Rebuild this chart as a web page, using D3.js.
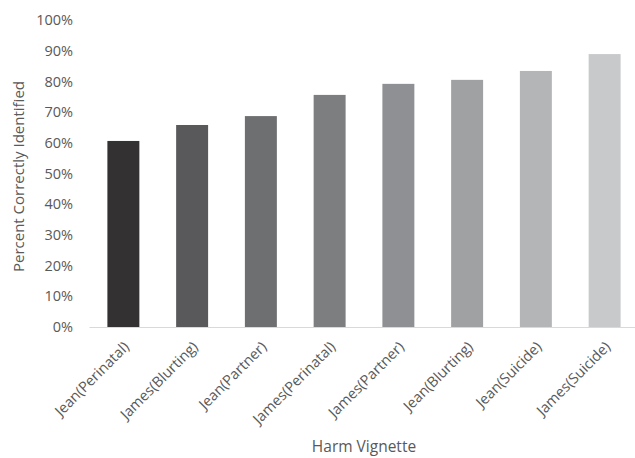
<!DOCTYPE html>
<html>
<head>
<meta charset="utf-8">
<script src="https://cdn.jsdelivr.net/npm/d3@7"></script>
<style>
  html, body { margin: 0; padding: 0; background: #fff; overflow: hidden; }
  text { font-family: "Open Sans", "Liberation Sans", sans-serif; fill: #595959; }
</style>
</head>
<body>
<svg id="chart" width="635" height="458"></svg>
<script>
// Share of respondents who correctly identified each harm vignette
const categories = [
  "Jean(Perinatal)", "James(Blurting)", "Jean(Partner)", "James(Perinatal)",
  "James(Partner)", "Jean(Blurting)", "Jean(Suicide)", "James(Suicide)"
];
const percentCorrect = [0.606, 0.658, 0.687, 0.756, 0.792, 0.805, 0.834, 0.889];
const barColors = ["#333132", "#59595b", "#6e6f71", "#7d7e80", "#8f9093", "#a0a1a3", "#b4b5b7", "#c8c9cb"];
const yTicks = [0, 0.1, 0.2, 0.3, 0.4, 0.5, 0.6, 0.7, 0.8, 0.9, 1.0];

const svg = d3.select("#chart");
const plot = { left: 89, right: 639, top: 20, bottom: 327 };

const x = d3.scaleBand()
  .domain(categories)
  .range([plot.left, plot.right])
  .paddingInner(0.535)
  .paddingOuter(0.2675);

const y = d3.scaleLinear()
  .domain([0, 1])
  .range([plot.bottom, plot.top]);

// bars
svg.append("g")
  .selectAll("rect")
  .data(categories)
  .join("rect")
  .attr("x", d => x(d))
  .attr("width", x.bandwidth())
  .attr("y", (d, i) => y(percentCorrect[i]))
  .attr("height", (d, i) => y(0) - y(percentCorrect[i]))
  .attr("fill", (d, i) => barColors[i]);

// y axis: labels only
const yAxis = svg.append("g")
  .attr("transform", `translate(${plot.left},0)`)
  .call(d3.axisLeft(y).tickValues(yTicks).tickFormat(d3.format(".0%")).tickSize(0).tickPadding(16));
yAxis.select(".domain").remove();
yAxis.selectAll("text").style("font-size", "14.5px").attr("fill", "#505050");

// x axis: baseline with rotated category labels
const xAxis = svg.append("g")
  .attr("transform", `translate(0,${plot.bottom})`)
  .call(d3.axisBottom(x).tickSize(0));
xAxis.select(".domain").attr("stroke", "#d9d9d9").attr("stroke-width", 1);
xAxis.selectAll("text")
  .style("font-size", "14.5px")
  .attr("fill", "#505050")
  .attr("text-anchor", "end")
  .attr("dy", "0.35em")
  .attr("transform", "translate(1,15) rotate(-45)");

// axis titles
svg.append("text")
  .attr("x", (plot.left + 639) / 2)
  .attr("y", 452)
  .attr("text-anchor", "middle")
  .attr("fill", "#505050")
  .style("font-size", "15.5px")
  .text("Harm Vignette");

svg.append("text")
  .attr("transform", `translate(24,${(plot.top + plot.bottom) / 2 + 3}) rotate(-90)`)
  .attr("text-anchor", "middle")
  .attr("fill", "#505050")
  .style("font-size", "15px")
  .text("Percent Correctly Identified");
</script>
</body>
</html>
